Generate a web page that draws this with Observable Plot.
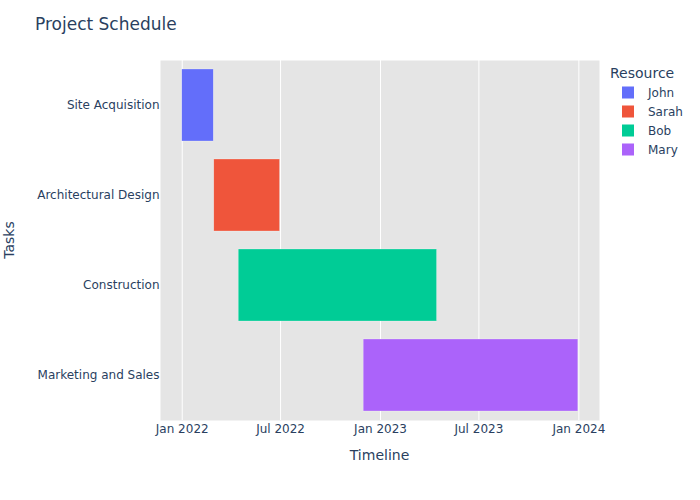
<!DOCTYPE html>
<html>
<head>
<meta charset="utf-8">
<script src="https://cdn.jsdelivr.net/npm/d3@7"></script>
<script src="https://cdn.jsdelivr.net/npm/@observablehq/plot@0.6"></script>
<style>
  html, body { margin: 0; padding: 0; background: white; }
  #wrap { position: relative; width: 700px; height: 500px; font-family: "DejaVu Sans", sans-serif; }
  #wrap svg { position: absolute; left: 0; top: 0; }
</style>
</head>
<body>
<div id="wrap"></div>
<script>
const tasks = ["Site Acquisition", "Architectural Design", "Construction", "Marketing and Sales"];
const starts = ["2022-01-01", "2022-03-01", "2022-04-15", "2022-12-01"];
const ends = ["2022-02-28", "2022-06-30", "2023-04-15", "2023-12-31"];
const resources = ["John", "Sarah", "Bob", "Mary"];
const colors = ["#636EFA", "#EF553B", "#00CC96", "#AB63FA"];
const tickLabels = ["2022-01-01", "2022-07-01", "2023-01-01", "2023-07-01", "2024-01-01"];
const xDomain = ["2021-11-22", "2024-02-08"];

const data = tasks.map((t, i) => ({
  task: t,
  start: new Date(starts[i]),
  end: new Date(ends[i]),
  resource: resources[i]
}));
const ticks = tickLabels.map(d => new Date(d));
const textColor = "#2a3f5f";

const chart = Plot.plot({
  width: 700,
  height: 500,
  marginLeft: 160,
  marginRight: 101,
  marginTop: 60,
  marginBottom: 80,
  style: { background: "white", fontFamily: "DejaVu Sans, sans-serif", fontSize: "12px", color: textColor },
  x: { type: "utc", domain: xDomain.map(d => new Date(d)), label: null },
  y: { domain: tasks, paddingInner: 0.2, paddingOuter: 0.1, label: null },
  color: { domain: resources, range: colors },
  marks: [
    Plot.frame({ fill: "#e5e5e5", stroke: null }),
    Plot.gridX(ticks, { stroke: "white", strokeOpacity: 1, strokeWidth: 1 }),
    Plot.barX(data, { x1: "start", x2: "end", y: "task", fill: "resource", stroke: "white", strokeOpacity: 0.5, strokeWidth: 0.5 }),
    Plot.axisX(ticks, { tickSize: 0, tickPadding: 3.5, tickFormat: d3.utcFormat("%b %Y"), fill: textColor, label: null }),
    Plot.axisY({ tickSize: 0, tickPadding: 1, fill: textColor, label: null })
  ]
});

const wrap = document.getElementById("wrap");
wrap.appendChild(chart);

// Overlay: title, axis titles, legend
const ov = d3.select(wrap).append("svg")
  .attr("width", 700).attr("height", 500)
  .style("pointer-events", "none")
  .style("font-family", "DejaVu Sans, sans-serif")
  .attr("fill", textColor);

ov.append("text").attr("x", 35).attr("y", 29.5).attr("font-size", 17).text("Project Schedule");
ov.append("text").attr("x", 379.5).attr("y", 460).attr("font-size", 14).attr("text-anchor", "middle").text("Timeline");
ov.append("text").attr("transform", "translate(14,240) rotate(-90)").attr("font-size", 14).attr("text-anchor", "middle").text("Tasks");

ov.append("text").attr("x", 610).attr("y", 78).attr("font-size", 14).text("Resource");
const leg = ov.selectAll("g.leg").data(resources).join("g")
  .attr("transform", (d, i) => `translate(0,${92.5 + i * 19})`);
leg.append("rect").attr("x", 622).attr("y", -6).attr("width", 12).attr("height", 12)
  .attr("fill", (d, i) => colors[i]);
leg.append("text").attr("x", 648).attr("y", 4.3).attr("font-size", 12).text(d => d);
</script>
</body>
</html>
